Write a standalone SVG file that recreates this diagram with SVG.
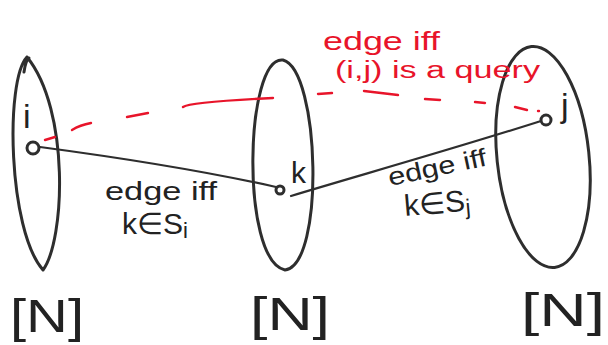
<svg xmlns="http://www.w3.org/2000/svg" width="608" height="345" viewBox="0 0 608 345">
<style>
.set{fill:none;stroke:#2e2e2e;stroke-width:3;stroke-linecap:round;stroke-linejoin:round}
.node{fill:none;stroke:#2e2e2e;stroke-width:3}
.edge{fill:none;stroke:#2e2e2e;stroke-width:2.2;stroke-linecap:round}
.q{fill:none;stroke:#e8142a;stroke-width:2.4;stroke-linecap:round}
.t{font-family:"Liberation Sans",Arial,sans-serif;fill:#222}
.r{font-family:"Liberation Sans",Arial,sans-serif;fill:#e8142a}
</style>
<rect width="608" height="345" fill="#fff"/>
<g id="set-left">
<path class="set" d="M27,57 C5,80 8,230 43,270 C65,240 70,110 27,57 M24,72 C25,65 26,60 29,58"/>
<text class="t" x="10" y="332" font-size="46" textLength="74" lengthAdjust="spacingAndGlyphs">[N]</text>
</g>
<g id="set-middle">
<path class="set" d="M283,60 C245,55 240,260 285,270 C325,265 320,70 283,60"/>
<text class="t" x="250" y="330" font-size="46" textLength="80" lengthAdjust="spacingAndGlyphs">[N]</text>
</g>
<g id="set-right">
<ellipse class="set" cx="543" cy="157" rx="46" ry="111" transform="rotate(-6 543 157)"/>
<text class="t" x="521" y="326" font-size="46" textLength="84" lengthAdjust="spacingAndGlyphs">[N]</text>
</g>
<g id="node-i">
<circle class="node" cx="33" cy="148" r="6"/>
<text class="t" x="23" y="128" font-size="34">i</text>
</g>
<g id="node-k">
<circle class="node" cx="280" cy="190" r="4"/>
<text class="t" x="291" y="183" font-size="30">k</text>
</g>
<g id="node-j">
<circle class="node" cx="546" cy="120" r="5"/>
<text class="t" x="561" y="117" font-size="34">j</text>
</g>
<g id="connectors">
<path class="edge" d="M40,147 C100,155 200,170 276,187"/>
<path class="edge" d="M291,196 C350,178 450,150 541,121"/>
<g class="q">
<path d="M45,140 L55,137"/>
<path d="M72,130 Q80,125 91,123"/>
<path d="M127,117 L148,113"/>
<path d="M183,107 Q190,102 273,98"/>
<path d="M318,94 L332,93"/>
<path d="M364,91 L398,95"/>
<path d="M425,99 L440,100"/>
<path d="M475,102 L485,103"/>
<path d="M515,107 L527,110"/>
<path d="M538,111 L539,111"/>
</g>
</g>
<g id="labels">
<text class="r" x="323" y="50" font-size="25" textLength="117" lengthAdjust="spacingAndGlyphs">edge iff</text>
<text class="r" x="335" y="78" font-size="23" textLength="205" lengthAdjust="spacingAndGlyphs">(i,j) is a query</text>
<text class="t" x="105" y="200" font-size="25" textLength="112" lengthAdjust="spacingAndGlyphs">edge iff</text>
<text class="t" x="122" y="234" font-size="30">k∈S<tspan font-size="22" dy="4">i</tspan></text>
<text class="t" x="390" y="186" font-size="25" textLength="100" lengthAdjust="spacingAndGlyphs" transform="rotate(-12 390 186)">edge iff</text>
<text class="t" x="405" y="216" font-size="30" transform="rotate(-5 405 216)">k∈S<tspan font-size="22" dy="4">j</tspan></text>
</g>
</svg>
